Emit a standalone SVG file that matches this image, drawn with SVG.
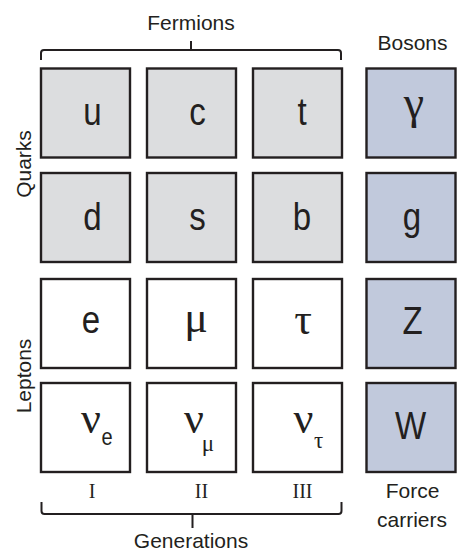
<svg xmlns="http://www.w3.org/2000/svg" width="457" height="553" viewBox="0 0 457 553">
<defs>
<style>
.box{stroke:#231f20;stroke-width:2.4}
.q{fill:#dcdddf}
.l{fill:#ffffff}
.b{fill:#c1c9dc}
.sym{font-family:"Liberation Sans",Arial,sans-serif;font-size:38px;fill:#231f20;text-anchor:middle}
.gk{font-family:"Liberation Serif","Times New Roman",serif;font-size:44px;fill:#231f20;text-anchor:middle}
.sub{font-family:"Liberation Sans",Arial,sans-serif;font-size:23px;fill:#231f20;text-anchor:middle}
.gsub{font-family:"Liberation Serif","Times New Roman",serif;font-size:23px;fill:#231f20;text-anchor:middle}
.lab{font-family:"Liberation Sans",Arial,sans-serif;font-size:21px;fill:#231f20;text-anchor:middle}
.rom{font-family:"Liberation Serif","Times New Roman",serif;font-size:20px;fill:#231f20;text-anchor:middle}
.brace{fill:none;stroke:#231f20;stroke-width:2}
</style>
</defs>
<rect width="457" height="553" fill="#ffffff"/>

<g id="label-fermions"><text class="lab" x="191" y="29.5">Fermions</text></g>
<g id="label-bosons"><text class="lab" x="412.5" y="50">Bosons</text></g>
<g id="label-quarks"><text class="lab" transform="translate(31,164) rotate(-90)" x="0" y="0">Quarks</text></g>
<g id="label-leptons"><text class="lab" transform="translate(31,376) rotate(-90)" x="0" y="0">Leptons</text></g>

<g id="connectors">
<path class="brace" d="M41,60 L41,53 Q41,50 44,50 L338,50 Q341,50 341,53 L341,60 M191,50 L191,41"/>
<path class="brace" d="M41.5,502 L41.5,511 Q41.5,514 44.5,514 L338.5,514 Q341.5,514 341.5,511 L341.5,502 M192.5,514 L192.5,528"/>
</g>

<g id="node-u"><rect class="box q" x="41" y="68.5" width="89" height="89"/><text class="sym" transform="translate(92.5,125) scale(0.87,1)">u</text></g>
<g id="node-c"><rect class="box q" x="147" y="68.5" width="89" height="89"/><text class="sym" transform="translate(197.5,124.5) scale(0.87,1)">c</text></g>
<g id="node-t"><rect class="box q" x="253" y="68.5" width="89" height="89"/><text class="sym" transform="translate(302,125) scale(0.87,1)">t</text></g>
<g id="node-gamma"><rect class="box b" x="366.5" y="68.5" width="89" height="89"/><text class="gk" x="414" y="118" style="font-size:46px">γ</text></g>

<g id="node-d"><rect class="box q" x="41" y="173" width="89" height="89"/><text class="sym" transform="translate(92.5,229.5) scale(0.87,1)">d</text></g>
<g id="node-s"><rect class="box q" x="147" y="173" width="89" height="89"/><text class="sym" transform="translate(197.5,229.5) scale(0.87,1)">s</text></g>
<g id="node-b"><rect class="box q" x="253" y="173" width="89" height="89"/><text class="sym" transform="translate(302,229.5) scale(0.87,1)">b</text></g>
<g id="node-g"><rect class="box b" x="366.5" y="173" width="89" height="89"/><text class="sym" transform="translate(412,229.5) scale(0.87,1)">g</text></g>

<g id="node-e"><rect class="box l" x="41" y="279" width="89" height="89"/><text class="sym" transform="translate(91,333) scale(0.87,1)">e</text></g>
<g id="node-mu"><rect class="box l" x="147" y="279" width="89" height="89"/><text class="gk" x="196" y="332">μ</text></g>
<g id="node-tau"><rect class="box l" x="253" y="279" width="89" height="89"/><text class="gk" x="303" y="334">τ</text></g>
<g id="node-Z"><rect class="box b" x="366.5" y="279" width="89" height="89"/><text class="sym" transform="translate(412.5,333.5) scale(0.87,1)">Z</text></g>

<g id="node-nu-e"><rect class="box l" x="41" y="383" width="89" height="89"/><text class="gk" x="91" y="433">ν</text><text class="sub" transform="translate(107,444.5) scale(0.87,1)">e</text></g>
<g id="node-nu-mu"><rect class="box l" x="147" y="383" width="89" height="89"/><text class="gk" x="194" y="433">ν</text><text class="gsub" x="208" y="451">μ</text></g>
<g id="node-nu-tau"><rect class="box l" x="253" y="383" width="89" height="89"/><text class="gk" x="303.5" y="433">ν</text><text class="gsub" x="318.5" y="448">τ</text></g>
<g id="node-W"><rect class="box b" x="366.5" y="383" width="89" height="89"/><text class="sym" transform="translate(410.5,438.5) scale(0.87,1)">W</text></g>

<g id="label-gen-I"><text class="rom" x="92" y="498">I</text></g>
<g id="label-gen-II"><text class="rom" x="201.5" y="498">II</text></g>
<g id="label-gen-III"><text class="rom" x="302.5" y="498">III</text></g>
<g id="label-force"><text class="lab" x="412.5" y="498">Force</text><text class="lab" x="412" y="527">carriers</text></g>
<g id="label-generations"><text class="lab" x="191" y="547.5">Generations</text></g>
</svg>
